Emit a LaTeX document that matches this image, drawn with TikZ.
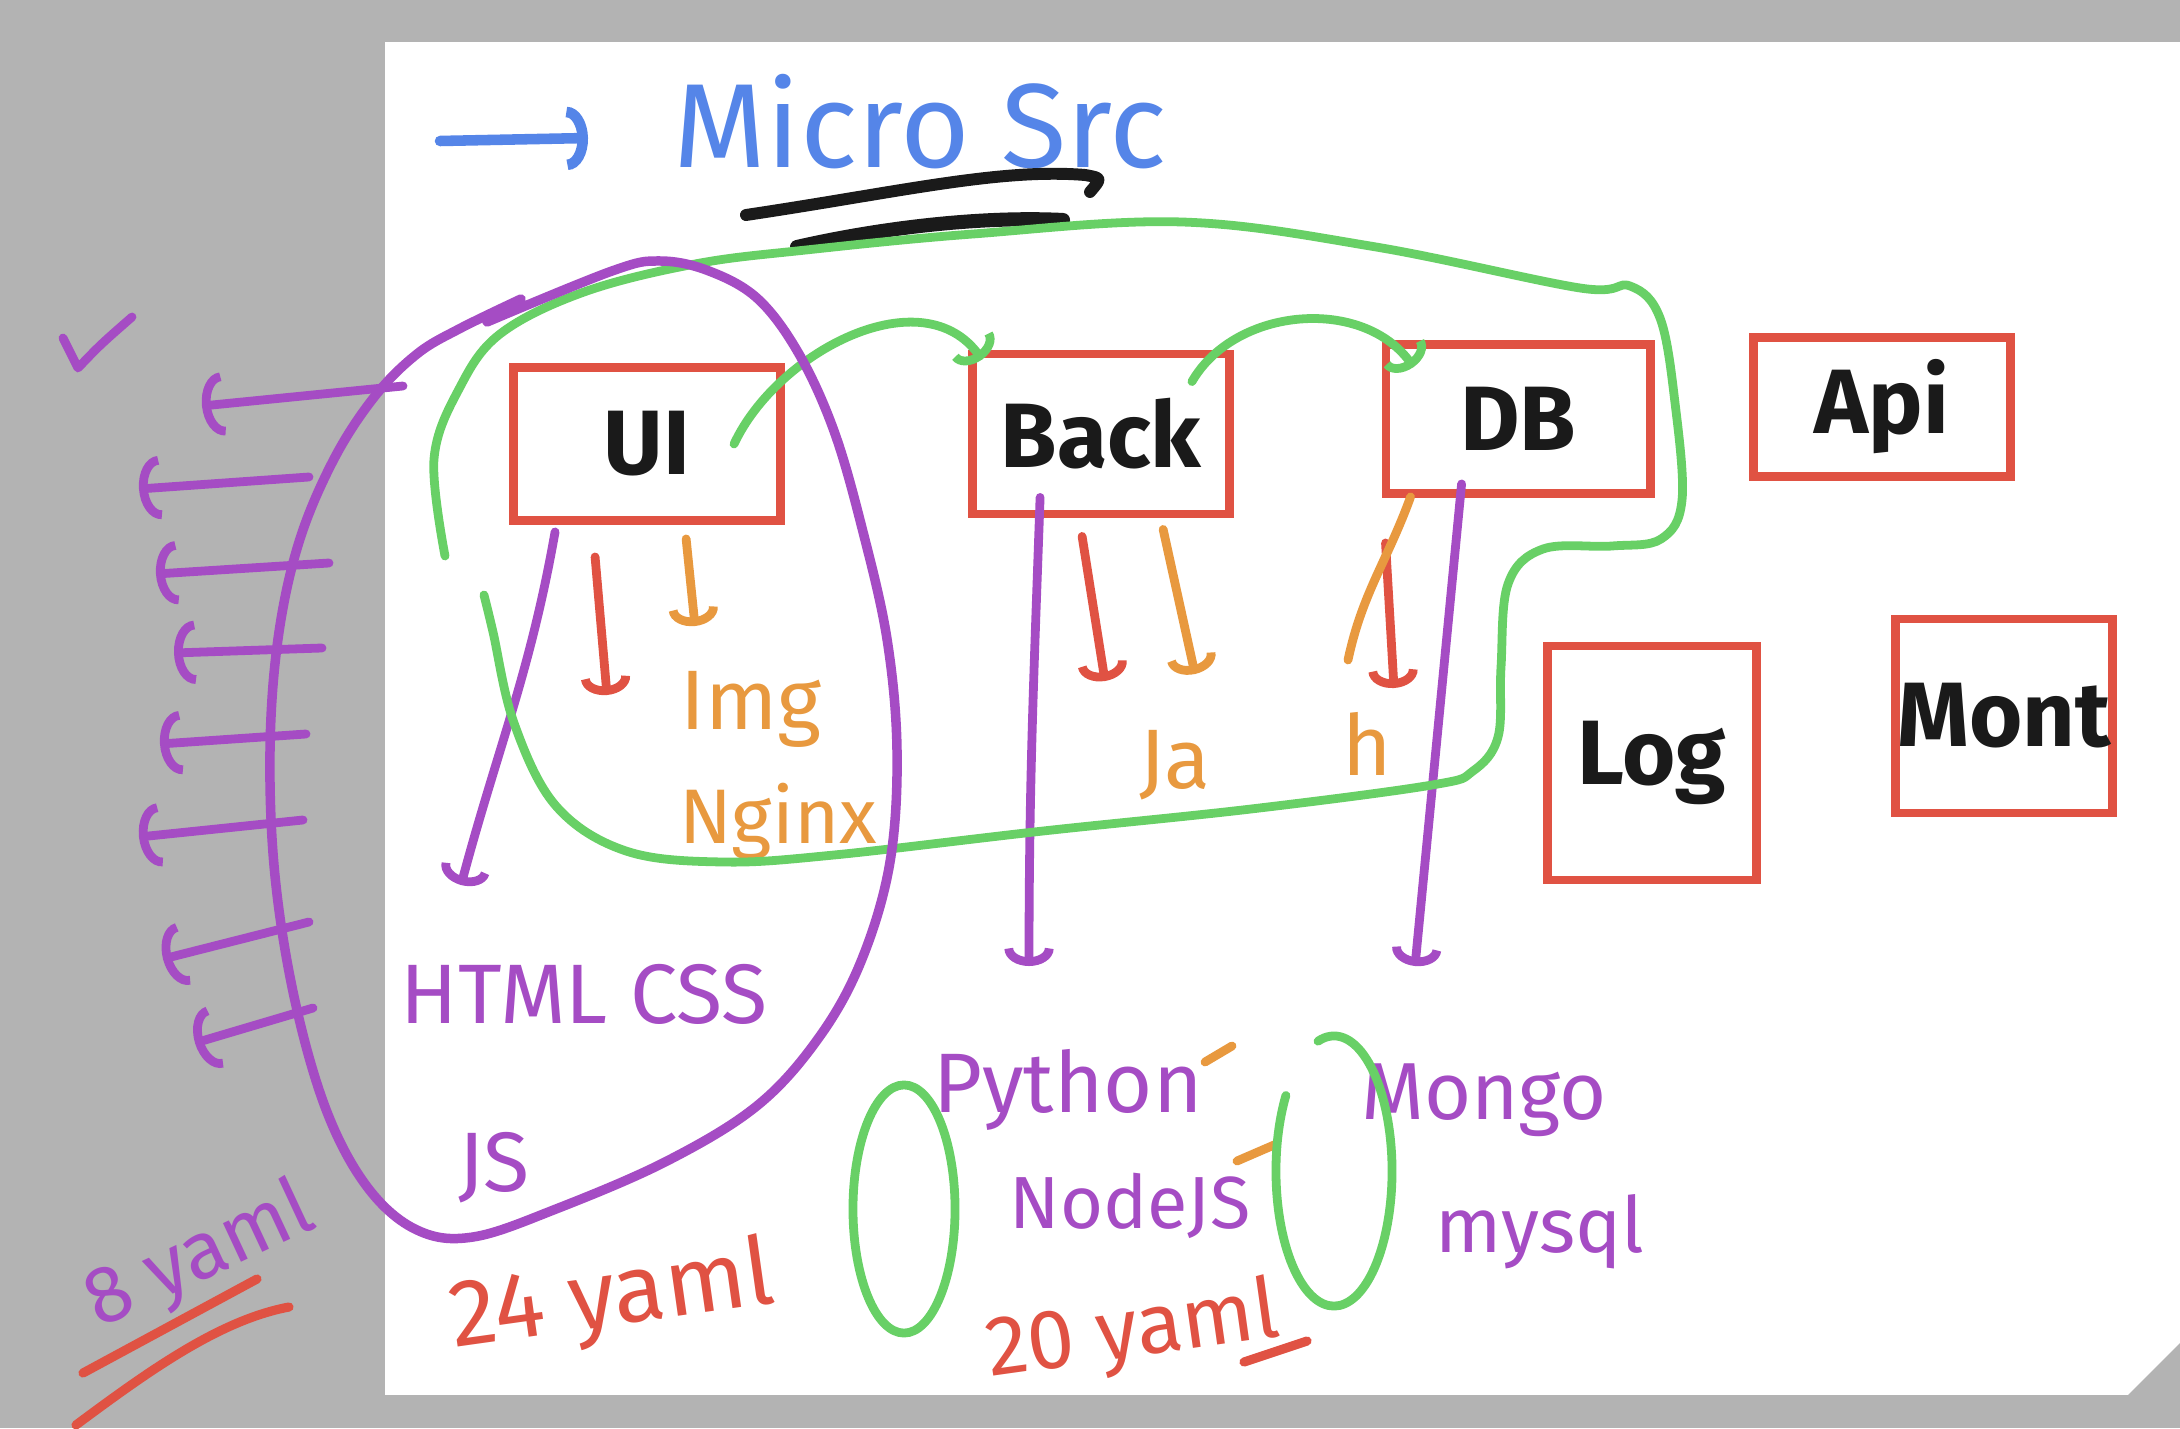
\documentclass[tikz,border=0pt]{standalone}
\usepackage{fontspec}
\setmainfont{Fira Sans}
\usepackage{xcolor}
\usepackage{tikz}
\usetikzlibrary{arrows.meta}

\definecolor{bggray}{RGB}{179,179,179}
\definecolor{purp}{RGB}{165,76,196}
\definecolor{grn}{RGB}{104,208,102}
\definecolor{boxred}{RGB}{224,82,67}
\definecolor{orng}{RGB}{232,153,63}
\definecolor{blu}{RGB}{85,133,232}
\definecolor{ink}{RGB}{26,26,26}
\newcommand{\hsz}[1]{\fontsize{#1}{#1}\selectfont}

\tikzset{
  box/.style={draw=boxred, line width=2.5pt, inner sep=0pt, text=ink, font=\hsz{26}\bfseries},
  pen/.style={line width=2.5pt, line cap=round, line join=round},
  handtip/.style={-{Arc Barb[length=5pt, width=14pt]}},
  bigtip/.style={-{Arc Barb[length=6pt, width=18pt]}},
  ptxt/.style={text=purp, inner sep=0pt},
  otxt/.style={text=orng, inner sep=0pt},
  rtxt/.style={text=boxred, inner sep=0pt},
}

\begin{document}
\begin{tikzpicture}[x=0.01cm, y=-0.01cm]
	\useasboundingbox (0,0) rectangle (2180,1428);
	\fill[bggray] (0,0) rectangle (2180,1428);
	\fill[white] (385,42) rectangle (2180,1395);
	\fill[bggray] (2127,1396) -- (2181,1342) -- (2181,1396) -- cycle;

	\node[text=blu, font=\hsz{34}] (title) at (920,122) {Micro Src};
	\coordinate (arrA) at (440,141);
	\coordinate (arrB) at (588,138);
	\draw[pen, blu, bigtip, line width=3pt] (arrA) -- (arrB);
	\draw[pen, ink, line width=3.4pt] (746,215) .. controls (900,192) and (1000,168) .. (1085,175) .. controls (1102,178) .. (1090,192);
	\draw[pen, ink, line width=4pt] (797,247) .. controls (880,228) and (980,216) .. (1063,220);

	\node[box, minimum width=2.67cm, minimum height=1.53cm] (ui) at (647,444) {UI};
	\node[box, minimum width=2.57cm, minimum height=1.60cm] (back) at (1101,434) {Back};
	\node[box, minimum width=2.64cm, minimum height=1.49cm] (db) at (1518,419) {DB};
	\node[box, minimum width=2.57cm, minimum height=1.39cm] (api) at (1882,407) {Api};
	\node[box, minimum width=2.09cm, minimum height=2.34cm] (log) at (1652,763) {Log};
	\node[box, minimum width=2.17cm, minimum height=1.94cm] (mont) at (2004,716) {Mont};

	\node[otxt, font=\hsz{24}] (img) at (751,709) {Img};
	\node[otxt, font=\hsz{22}] (nginx) at (778,822) {Nginx};
	\node[otxt, font=\hsz{24}] (ja) at (1175,765) {Ja};
	\node[otxt, font=\hsz{24}] (hh) at (1367,744) {h};
	\node[ptxt, font=\hsz{24}] (html) at (584,994) {HTML CSS};
	\node[ptxt, font=\hsz{24}] (js) at (494,1168) {JS};
	\node[ptxt, font=\hsz{24}] (python) at (1068,1090) {Python};
	\node[ptxt, font=\hsz{21}] (nodejs) at (1130,1206) {NodeJS};
	\node[ptxt, font=\hsz{23}] (mongo) at (1484,1100) {Mongo};
	\node[ptxt, font=\hsz{22}] (mysql) at (1540,1232) {mysql};
	\node[rtxt, font=\hsz{27}, rotate=8] (yaml24) at (612,1300) {24 yaml};
	\node[rtxt, font=\hsz{24}, rotate=8] (yaml20) at (1133,1334) {20 yaml};
	\node[ptxt, font=\hsz{23}, rotate=25] (yaml8) at (200,1258) {8 yaml};

	\coordinate (uiP) at (461,885);
	\coordinate (uiR) at (607,695);
	\coordinate (uiO) at (695,626);
	\coordinate (backP) at (1029,966);
	\coordinate (backR) at (1105,681);
	\coordinate (backO) at (1195,674);
	\coordinate (dbP) at (1415,966);
	\coordinate (dbR) at (1394,688);
	\coordinate (dbO) at (1348,660);

\draw[pen, purp, handtip] ([xshift=0.46cm,yshift=-0.07cm]ui.south west) to[out=-100,in=75] (uiP);
\draw[pen, boxred, handtip] ([xshift=0.86cm,yshift=-0.32cm]ui.south west) -- (uiR);
\draw[pen, orng, handtip] ([xshift=1.77cm,yshift=-0.14cm]ui.south west) -- (uiO);
\draw[pen, purp, handtip] ([xshift=0.72cm,yshift=0.21cm]back.south west) to[out=-92,in=90] (backP);
\draw[pen, boxred, handtip] ([xshift=1.14cm,yshift=-0.18cm]back.south west) -- (backR);
\draw[pen, orng, handtip] ([xshift=1.95cm,yshift=-0.11cm]back.south west) -- (backO);
\draw[pen, purp, handtip] ([xshift=0.80cm,yshift=0.14cm]db.south west) -- (dbP);
\draw[pen, boxred, handtip] ([xshift=0.04cm,yshift=-0.45cm]db.south west) -- (dbR);
\draw[pen, orng] ([xshift=0.29cm,yshift=0.01cm]db.south west) to[out=-110,in=78] (dbO);

\draw[pen, grn, handtip] ([xshift=0.87cm]ui.center) to[out=65,in=125] ([xshift=0.14cm,yshift=-0.1cm]back.north west);
\draw[pen, grn, handtip] ([xshift=-0.42cm,yshift=-0.32cm]back.north east) to[out=60,in=125] ([xshift=0.32cm,yshift=-0.27cm]db.north west);

	\draw[pen, grn] plot[smooth, tension=0.6] coordinates {(445,556) (434,459) (459,389) (500,334) (584,292) (695,264) (806,250) (973,234) (1182,222) (1376,247) (1580,288) (1630,286) (1660,318) (1675,403) (1682,500) (1661,539) (1612,546) (1543,549) (1508,584) (1501,667) (1498,737) (1473,771) (1432,785) (1251,809) (1043,831) (834,855) (723,862) (626,851) (556,806) (514,723) (493,632) (484,595)};
	\draw[pen, purp, line width=2.7pt] plot[smooth, tension=0.6] coordinates {(487,322) (612,271) (660,261) (709,271) (758,299) (799,354) (834,431) (862,528) (887,639) (897,751) (890,862) (862,959) (820,1036) (758,1105) (667,1161) (556,1209) (473,1237) (417,1230) (368,1188) (327,1112) (295,1001) (275,876) (270,751) (278,639) (299,542) (334,459) (375,396) (417,354) (459,329) (521,299)};

	\draw[pen, purp, bigtip] (403,386) -- (202,406); \draw[pen, purp, bigtip] (309,477) -- (139,489);
	\draw[pen, purp, bigtip] (329,563) -- (156,574); \draw[pen, purp, bigtip] (322,648) -- (174,653);
	\draw[pen, purp, bigtip] (306,734) -- (160,744); \draw[pen, purp, bigtip] (303,820) -- (139,837);
	\draw[pen, purp, bigtip] (309,922) -- (163,959); \draw[pen, purp, bigtip] (313,1008) -- (195,1043);
	\draw[pen, purp] (63,338) -- (78,368) .. controls (100,345) .. (132,317);

	\draw[pen, orng] (1205,1062) -- (1232,1046);
	\draw[pen, orng] (1237,1161) -- (1274,1145);
	\draw[pen, grn] (904,1209) ellipse [x radius=0.51cm, y radius=1.24cm];
	\draw[pen, grn] (1334,1171) ++(146:0.58cm and 1.35cm) arc[start angle=146, end angle=466, x radius=0.58cm, y radius=1.35cm];

	\draw[pen, boxred, line width=2.6pt] (83,1373) -- (257,1279);
	\draw[pen, boxred, line width=2.6pt] (76,1425) .. controls (150,1370) and (220,1320) .. (289,1307);
	\draw[pen, boxred, line width=2.6pt] (1244,1362) -- (1307,1341);
\end{tikzpicture}
\end{document}
